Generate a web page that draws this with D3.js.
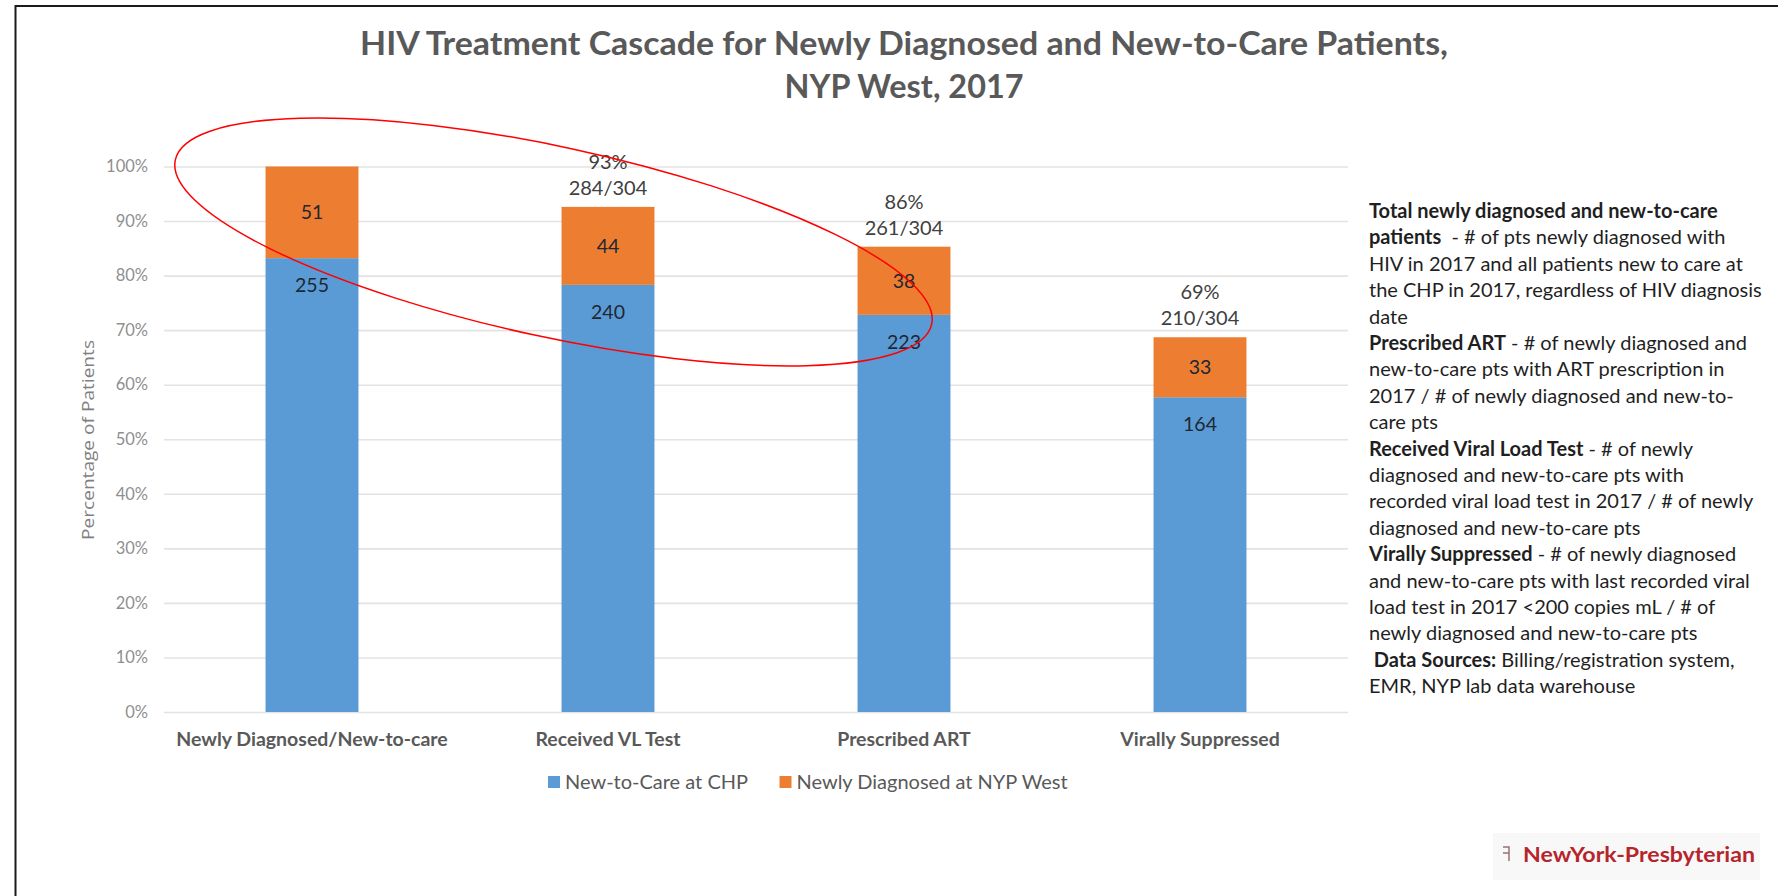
<!DOCTYPE html>
<html>
<head>
<meta charset="utf-8">
<script src="https://cdn.jsdelivr.net/npm/d3@7/dist/d3.min.js"></script>
<style>
  html, body { margin: 0; padding: 0; background: #ffffff; }
  svg { display: block; }
</style>
</head>
<body>
<svg id="chart" width="1778" height="896"></svg>
<script>
// ---------------- DATA ----------------
const titleLines = ["HIV Treatment Cascade for Newly Diagnosed and New-to-Care Patients,", "NYP West, 2017"];
const categories = ["Newly Diagnosed/New-to-care", "Received VL Test", "Prescribed ART", "Virally Suppressed"];
const seriesNames = ["New-to-Care at CHP", "Newly Diagnosed at NYP West"];
// bar segment heights (percent of patients)
const newToCarePct = [83.2, 78.3, 72.8, 57.7];
const newlyDiagPct = [16.8, 14.3, 12.5, 11.0];
// data labels (patient counts)
const newToCareCount = [255, 240, 223, 164];
const newlyDiagCount = [51, 44, 38, 33];
// annotations above bars
const totalPctLabels = ["", "93%", "86%", "69%"];
const totalFracLabels = ["", "284/304", "261/304", "210/304"];
const yTicks = [0, 10, 20, 30, 40, 50, 60, 70, 80, 90, 100];
const yAxisTitle = "Percentage of Patients";
// notes on the right: each line is a list of [text, bold]
const noteLines = [
  [["Total newly diagnosed and new-to-care", true]],
  [["patients", true], ["  - # of pts newly diagnosed with", false]],
  [["HIV in 2017 and all patients new to care at", false]],
  [["the CHP in 2017, regardless of HIV diagnosis", false]],
  [["date", false]],
  [["Prescribed ART", true], [" - # of newly diagnosed and", false]],
  [["new-to-care pts with ART prescription in", false]],
  [["2017 / # of newly diagnosed and new-to-", false]],
  [["care pts", false]],
  [["Received Viral Load Test", true], [" - # of newly", false]],
  [["diagnosed and new-to-care pts with", false]],
  [["recorded viral load test in 2017 / # of newly", false]],
  [["diagnosed and new-to-care pts", false]],
  [["Virally Suppressed", true], [" - # of newly diagnosed", false]],
  [["and new-to-care pts with last recorded viral", false]],
  [["load test in 2017 <200 copies mL / # of", false]],
  [["newly diagnosed and new-to-care pts", false]],
  [[" Data Sources:", true], [" Billing/registration system,", false]],
  [["EMR, NYP lab data warehouse", false]]
];
const logoText = "NewYork-Presbyterian";

// ---------------- LAYOUT / STYLE ----------------
const FONT = "Lato, 'Open Sans', sans-serif";
const colors = ["#5b9bd5", "#ed7d31"];
const svg = d3.select("#chart");

// frame
svg.append("line").attr("x1", 15.5).attr("x2", 15.5).attr("y1", 5).attr("y2", 896)
  .attr("stroke", "#1a1a1a").attr("stroke-width", 2);
svg.append("line").attr("x1", 15).attr("x2", 1778).attr("y1", 6).attr("y2", 6)
  .attr("stroke", "#1a1a1a").attr("stroke-width", 2);

// title
svg.append("g").selectAll("text").data(titleLines).join("text")
  .attr("x", 904).attr("y", (d, i) => 55 + i * 43)
  .attr("text-anchor", "middle")
  .attr("font-family", FONT).attr("font-weight", "bold").attr("font-size", 32)
  .attr("fill", "#595959")
  .attr("textLength", (d, i) => i === 0 ? 1088 : 239)
  .attr("lengthAdjust", "spacingAndGlyphs")
  .text(d => d);

// scales
const x = d3.scaleBand().domain(categories).range([164, 1348])
  .paddingInner(0.686).paddingOuter(0.343);
const y = d3.scaleLinear().domain([0, 100]).range([712, 166.5]);

// gridlines
const grid = svg.append("g").attr("transform", "translate(164,0)")
  .call(d3.axisLeft(y).tickValues(yTicks).tickSize(-(1348 - 164)).tickFormat(""));
grid.select(".domain").remove();
grid.selectAll(".tick line").attr("stroke", "#e3e3e3").attr("stroke-width", 1.6);

// y axis labels
const yAx = svg.append("g").attr("transform", "translate(164,0)")
  .call(d3.axisLeft(y).tickValues(yTicks).tickSize(0).tickPadding(16).tickFormat(d => d + "%"));
yAx.select(".domain").remove();
yAx.selectAll("text").attr("font-family", FONT).attr("font-size", 16.5).attr("fill", "#8f8f8f");

// y axis title
svg.append("text")
  .attr("transform", "translate(94,440) rotate(-90)")
  .attr("text-anchor", "middle")
  .attr("font-family", "'Open Sans', sans-serif").attr("font-size", 16.5).attr("fill", "#808080")
  .attr("textLength", 200).attr("lengthAdjust", "spacingAndGlyphs")
  .text(yAxisTitle);

// stacked bars
const rows = categories.map((c, i) => ({cat: c, a: newToCarePct[i], b: newlyDiagPct[i]}));
const stack = d3.stack().keys(["a", "b"])(rows);
const barG = svg.append("g");
stack.forEach((layer, k) => {
  barG.append("g").attr("fill", colors[k]).selectAll("rect").data(layer).join("rect")
    .attr("x", d => x(d.data.cat))
    .attr("width", x.bandwidth())
    .attr("y", d => y(d[1]))
    .attr("height", d => y(d[0]) - y(d[1]));
});

// data labels
const lblG = svg.append("g").attr("font-family", FONT).attr("font-size", 19.5)
  .attr("fill", "#1e2733").attr("text-anchor", "middle");
lblG.selectAll("text.blue").data(stack[0]).join("text").attr("class", "blue")
  .attr("x", d => x(d.data.cat) + x.bandwidth() / 2)
  .attr("y", d => y(d[1]) + 34)
  .text((d, i) => newToCareCount[i]);
lblG.selectAll("text.orange").data(stack[1]).join("text").attr("class", "orange")
  .attr("x", d => x(d.data.cat) + x.bandwidth() / 2)
  .attr("y", d => (y(d[0]) + y(d[1])) / 2 + 7)
  .text((d, i) => newlyDiagCount[i]);

// annotations above bars
const annG = svg.append("g").attr("font-family", FONT).attr("font-size", 20)
  .attr("fill", "#404040").attr("text-anchor", "middle");
stack[1].forEach((d, i) => {
  if (!totalPctLabels[i]) return;
  const cx = x(d.data.cat) + x.bandwidth() / 2;
  annG.append("text").attr("x", cx).attr("y", y(d[1]) - 38).text(totalPctLabels[i]);
  annG.append("text").attr("x", cx).attr("y", y(d[1]) - 12).text(totalFracLabels[i]);
});

// x axis labels
const xAx = svg.append("g").attr("transform", "translate(0,712)")
  .call(d3.axisBottom(x).tickSize(0).tickPadding(20));
xAx.select(".domain").remove();
xAx.selectAll("text").attr("font-family", FONT).attr("font-weight", "bold")
  .attr("font-size", 19.5).attr("fill", "#595959");

// legend
const legend = svg.append("g").attr("font-family", FONT).attr("font-size", 20).attr("fill", "#595959");
const legX = [548, 779.5];
seriesNames.forEach((s, i) => {
  legend.append("rect").attr("x", legX[i]).attr("y", 776).attr("width", 12).attr("height", 12).attr("fill", colors[i]);
  legend.append("text").attr("x", legX[i] + 17).attr("y", 789).text(s);
});

// red hand-drawn ellipse annotation
svg.append("ellipse")
  .attr("cx", 0).attr("cy", 0).attr("rx", 387).attr("ry", 95)
  .attr("transform", "translate(553.5,242) rotate(12.25)")
  .attr("fill", "none").attr("stroke", "#ff0000").attr("stroke-width", 1.5);

// notes on the right
const notes = svg.append("g").attr("font-family", FONT).attr("font-size", 20).attr("fill", "#1f1f1f");
noteLines.forEach((parts, i) => {
  const t = notes.append("text").attr("x", 1369).attr("y", 218 + i * 26.4).attr("xml:space", "preserve");
  parts.forEach(p => {
    t.append("tspan").attr("font-weight", p[1] ? "bold" : "normal").text(p[0]);
  });
});

// logo
svg.append("rect").attr("x", 1493).attr("y", 833).attr("width", 267).attr("height", 47).attr("fill", "#f8f8f8");
svg.append("path").attr("d", "M1503,847 h6 v14 M1503,853 h6")
  .attr("fill", "none").attr("stroke", "#9a7070").attr("stroke-width", 1.5);
svg.append("text").attr("x", 1523).attr("y", 862)
  .attr("font-family", FONT).attr("font-weight", "bold").attr("font-size", 21)
  .attr("fill", "#b5252b").attr("textLength", 232).attr("lengthAdjust", "spacingAndGlyphs")
  .text(logoText);
</script>
</body>
</html>
